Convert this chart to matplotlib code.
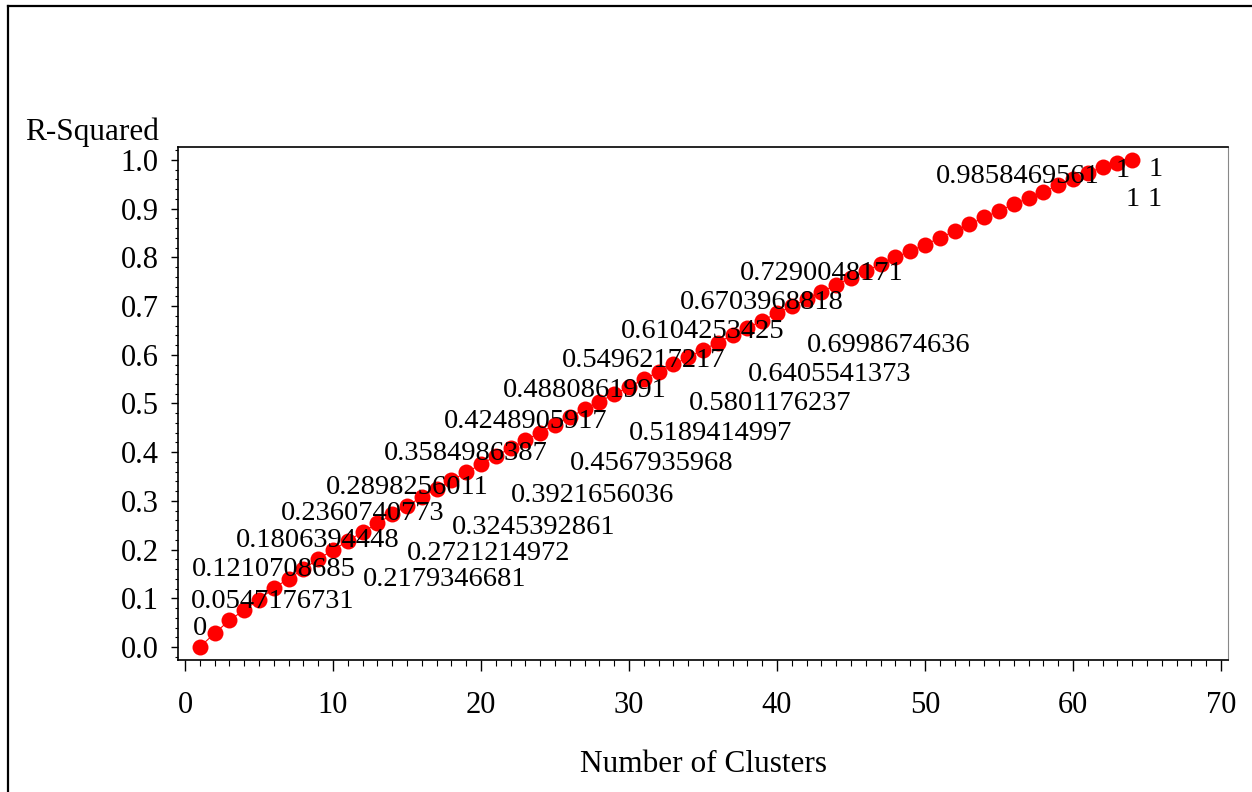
import matplotlib
matplotlib.use('Agg')
import matplotlib.pyplot as plt
from matplotlib.lines import Line2D
from matplotlib.ticker import MultipleLocator, FormatStrFormatter

# R-squared by number of clusters
n_clusters = list(range(1, 65))
r_squared = [
    0.0, 0.028, 0.0547176731, 0.076, 0.097, 0.1210708685, 0.140, 0.160,
    0.1806394448, 0.199, 0.2179346681, 0.2360740773, 0.254, 0.2721214972,
    0.2898256011, 0.308, 0.3245392861, 0.342, 0.3584986387, 0.375,
    0.3921656036, 0.408, 0.4248905917, 0.440, 0.4567935968, 0.472,
    0.4880861991, 0.504, 0.5189414997, 0.534, 0.5496217217, 0.565,
    0.5801176237, 0.595, 0.6104253425, 0.625, 0.6405541373, 0.655,
    0.6703968818, 0.685, 0.6998674636, 0.714, 0.7290048171, 0.744,
    0.758, 0.772, 0.786, 0.800, 0.813, 0.826, 0.840, 0.854, 0.868,
    0.882, 0.896, 0.909, 0.922, 0.935, 0.948, 0.961, 0.973,
    0.9858469561, 0.994, 1.0,
]

# point labels: which cluster count, text, and where around the point
label_points = [1, 3, 6, 9, 11, 12, 14, 15, 17, 19, 21, 23, 25, 27, 29,
                31, 33, 35, 37, 39, 41, 43, 62, 64, 64, 64, 64]
label_texts = ['0', '0.0547176731', '0.1210708685', '0.1806394448',
               '0.2179346681', '0.2360740773', '0.2721214972', '0.2898256011',
               '0.3245392861', '0.3584986387', '0.3921656036', '0.4248905917',
               '0.4567935968', '0.4880861991', '0.5189414997', '0.5496217217',
               '0.5801176237', '0.6104253425', '0.6405541373', '0.6703968818',
               '0.6998674636', '0.7290048171', '0.9858469561',
               '1', '1', '1', '1']
label_spots = ['above', 'above', 'above', 'above', 'below_right', 'above',
               'below_right', 'above', 'below_right', 'above', 'below_right',
               'above', 'below_right', 'above', 'below_right', 'above',
               'below_right', 'above', 'below_right', 'above', 'below_right',
               'above', 'left', 'left', 'right', 'below', 'below_right']

# offset in pixels and horizontal alignment for each label spot
SPOTS = {
    'above': ((0, 12), 'center'),
    'below_right': ((15, -45.5), 'left'),
    'below': ((0, -45.5), 'center'),
    'left': ((-3, -16.5), 'right'),
    'right': ((16, -15.5), 'left'),
}

plt.rcParams['font.family'] = ['Liberation Serif', 'DejaVu Serif']

W, H = 1252, 792
fig = plt.figure(figsize=(W / 100, H / 100), dpi=100)
ax = fig.add_axes([178 / W, 1 - 660 / H, 1050 / W, 513 / H])

ax.plot(n_clusters, r_squared, color='#ff0000', lw=0.8, marker='o',
        markersize=11.5, markeredgewidth=0, zorder=3)

ax.set_xlim(-0.47, 70.47)
ax.set_ylim(-0.0267, 1.0267)
ax.xaxis.set_major_locator(MultipleLocator(10))
ax.xaxis.set_minor_locator(MultipleLocator(1))
ax.yaxis.set_major_locator(MultipleLocator(0.1))
ax.yaxis.set_minor_locator(MultipleLocator(0.02))
ax.yaxis.set_major_formatter(FormatStrFormatter('%.1f'))

ax.tick_params(axis='x', which='major', length=8, width=1, pad=14, labelsize=22)
ax.tick_params(axis='x', which='minor', length=4, width=0.8)
ax.tick_params(axis='y', which='major', length=5, width=1, pad=9, labelsize=22)
ax.tick_params(axis='y', which='minor', length=2.5, width=0.8)
for side in ['left', 'top', 'bottom']:
    ax.spines[side].set_linewidth(1.2)
ax.spines['right'].set_color('#888888')

# labels sit on top of the markers
annots = []
for pt, txt, spot in zip(label_points, label_texts, label_spots):
    (dx, dy), ha = SPOTS[spot]
    a = ax.annotate(txt, xy=(pt, r_squared[pt - 1]), xytext=(dx, dy),
                    textcoords='offset pixels', ha=ha, va='baseline',
                    fontsize=20.5, zorder=4)
    annots.append(a)

# keep labels inside the frame, like the original
fig.canvas.draw()
renderer = fig.canvas.get_renderer()
frame = ax.get_window_extent(renderer)
for a in annots:
    bb = a.get_window_extent(renderer)
    if bb.x0 < frame.x0 + 13:
        dx, dy = a.xyann
        a.xyann = (dx + frame.x0 + 13 - bb.x0, dy)

fig.text(25 / W, 1 - 132 / H, 'R-Squared', ha='left', va='center', fontsize=22.5)
fig.text(704 / W, 1 - 765 / H, 'Number of Clusters', ha='center', va='center',
         fontsize=22.5)

# outer border (top and left edges visible)
fig.add_artist(Line2D([8 / W, 8 / W], [0, 1 - 6 / H], transform=fig.transFigure,
                      color='black', lw=1.6))
fig.add_artist(Line2D([8 / W, 1], [1 - 6 / H, 1 - 6 / H], transform=fig.transFigure,
                      color='black', lw=1.6))

fig.savefig('out.png', dpi=100)
